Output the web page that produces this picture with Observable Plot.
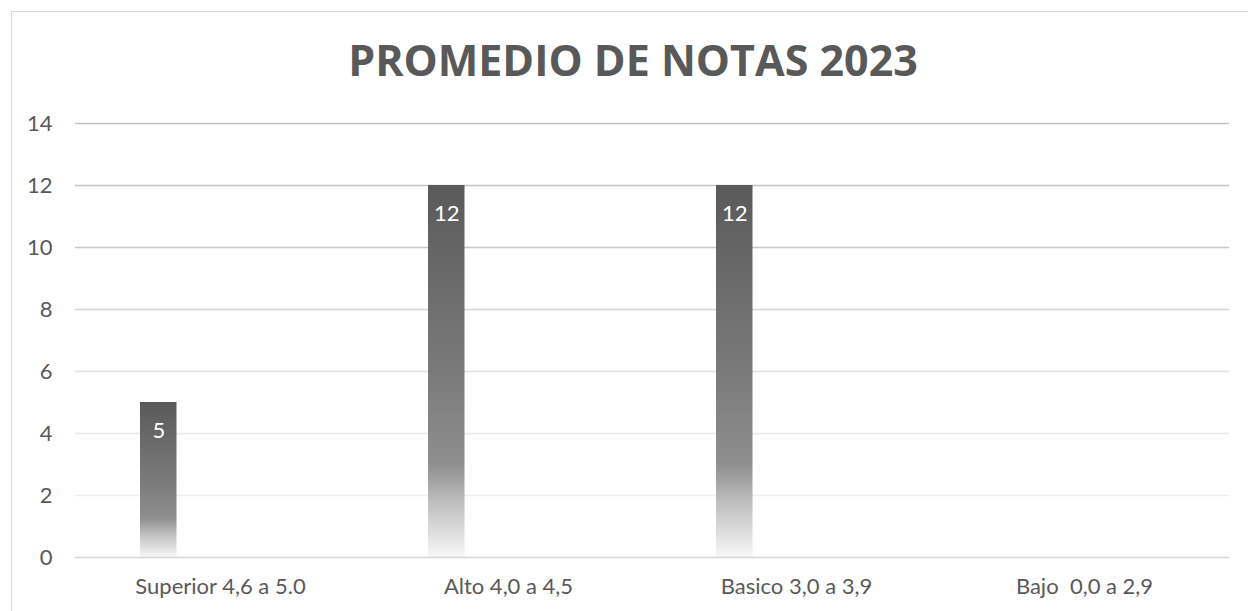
<!DOCTYPE html>
<html>
<head>
<meta charset="utf-8">
<script src="https://cdn.jsdelivr.net/npm/d3@7"></script>
<script src="https://cdn.jsdelivr.net/npm/@observablehq/plot@0.6"></script>
<style>
  html, body { margin: 0; padding: 0; background: #fff; }
  #wrap { position: relative; width: 1248px; height: 611px; overflow: hidden; }
  #frame { position: absolute; left: 11px; top: 11px; width: 1300px; height: 700px;
           border-left: 1px solid #d9d9d9; border-top: 1px solid #d9d9d9; box-sizing: border-box; }
  #title { position: absolute; left: 9px; width: 1248px; top: 38px; text-align: center;
           font-family: "Open Sans", sans-serif; font-weight: 700; font-size: 43px;
           color: #595959; line-height: 1; margin: 0; }
  #chart { position: absolute; left: 0; top: 0; }
</style>
</head>
<body>
<div id="wrap">
  <div id="frame"></div>
  <h2 id="title">PROMEDIO DE NOTAS 2023</h2>
  <div id="chart"></div>
</div>
<script>
const categories = ["Superior 4,6 a 5.0", "Alto 4,0 a 4,5", "Basico 3,0 a 3,9", "Bajo  0,0 a 2,9"];
const values = [5, 12, 12, 0];
const yTicks = [0, 2, 4, 6, 8, 10, 12, 14];

const data = categories.map((c, i) => ({category: c, value: values[i]}));
const gridColor = d3.scaleLinear().domain([2, 6, 10, 14]).range(["#efefef", "#e0e0e0", "#c8c8c8", "#bfbfbf"]);

const defs = () => {
  const d = d3.create("svg:defs");
  const g = d.append("linearGradient").attr("id", "barGrad")
    .attr("x1", 0).attr("y1", 0).attr("x2", 0).attr("y2", 1);
  [[0, "#5a5a5a"], [0.5, "#7a7a7a"], [0.75, "#8e8e8e"], [0.85, "#bdbdbd"], [1, "#f7f7f7"]]
    .forEach(([o, c]) => g.append("stop").attr("offset", o).attr("stop-color", c));
  return d.node();
};

const chart = Plot.plot({
  width: 1248,
  height: 611,
  marginLeft: 75,
  marginRight: 19,
  marginTop: 123,
  marginBottom: 54,
  style: {fontFamily: "Lato, sans-serif", fontSize: "22px", color: "#595959", background: "transparent", overflow: "visible"},
  x: {type: "band", domain: categories, padding: 0, label: null},
  y: {domain: [0, 14], label: null},
  marks: [
    defs,
    Plot.ruleY(yTicks.filter(t => t > 0), {y: d => d, stroke: d => gridColor(d), strokeWidth: 1.3}),
    Plot.barY(data, {x: "category", y: "value", fill: "url(#barGrad)", insetLeft: 64, insetRight: 187.5}),
    Plot.ruleY([0], {stroke: "#d6d6d6", strokeWidth: 1.5}),
    Plot.axisY({ticks: yTicks, tickSize: 0, tickPadding: 23, fill: "#595959", fontSize: 22}),
    Plot.axisX({tickSize: 0, tickPadding: 21, fill: "#595959", fontSize: 22}),
    Plot.text(data.filter(d => d.value > 0), {
      x: "category", y: "value", text: d => String(d.value),
      dx: -144.25 + 82.5, dy: 28, fill: "white", fontSize: 22
    })
  ]
});
document.getElementById("chart").appendChild(chart);
</script>
</body>
</html>
